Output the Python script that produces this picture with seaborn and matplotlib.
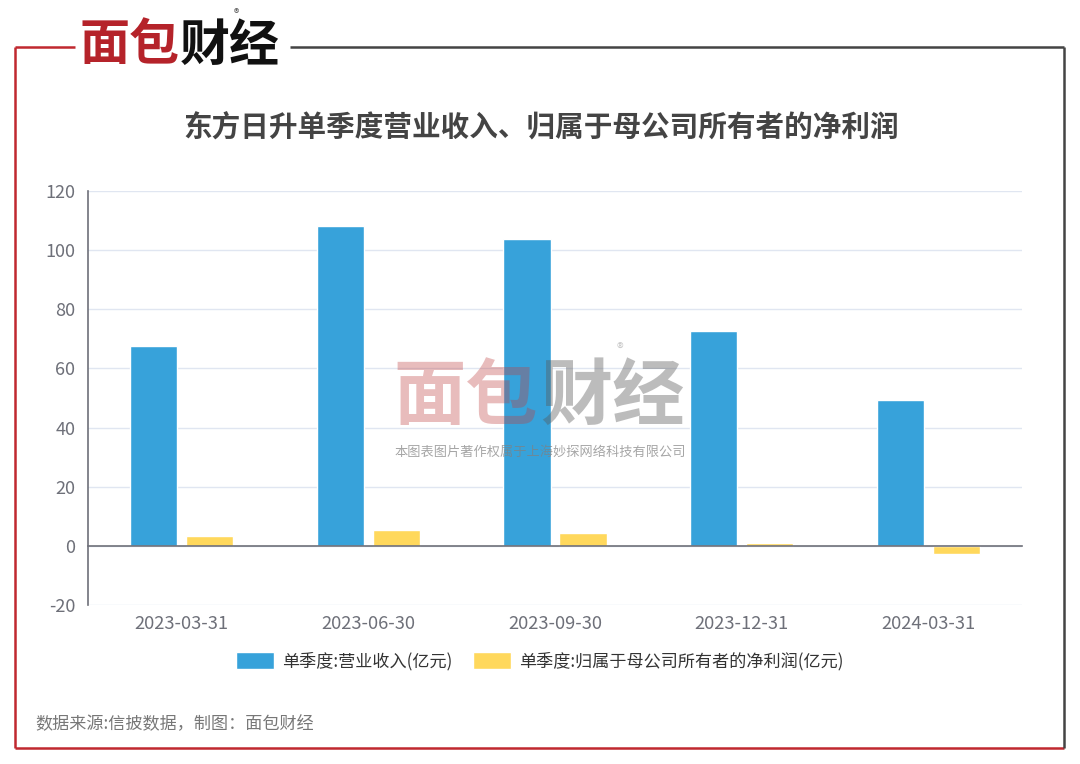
import numpy as np
import pandas as pd
import matplotlib
matplotlib.use("Agg")
import matplotlib.pyplot as plt
import seaborn as sns
from matplotlib.lines import Line2D
from matplotlib.ticker import FixedLocator

# ---- data ----
quarters = ["2023-03-31", "2023-06-30", "2023-09-30", "2023-12-31", "2024-03-31"]
revenue = [67.6, 108.2, 103.8, 72.8, 49.2]
net_profit = [3.2, 5.5, 4.3, 1.0, -2.6]
series_names = ["单季度:营业收入(亿元)", "单季度:归属于母公司所有者的净利润(亿元)"]
y_ticks = [-20, 0, 20, 40, 60, 80, 100, 120]
title = "东方日升单季度营业收入、归属于母公司所有者的净利润"
source = "数据来源:信披数据，制图：面包财经"
colors = ["#37A2DA", "#FFD85C"]

df = pd.DataFrame({
    "quarter": quarters * 2,
    "value": revenue + net_profit,
    "series": [series_names[0]] * len(quarters) + [series_names[1]] * len(quarters),
})

sns.set_theme(style="white")
plt.rcParams["font.family"] = ["Noto Sans CJK SC", "DejaVu Sans"]
plt.rcParams["axes.unicode_minus"] = False

W, H = 1080, 764
fig = plt.figure(figsize=(W / 100, H / 100), dpi=100)
ax = fig.add_axes([88 / W, (H - 605) / H, (1022 - 88) / W, (605 - 191) / H])

sns.barplot(data=df, x="quarter", y="value", hue="series", palette=colors,
            width=0.6, gap=0.16, saturation=1, ax=ax, legend=True)

ax.set_xlim(-0.5, len(quarters) - 0.5)
ax.set_ylim(y_ticks[0], y_ticks[-1])
ax.set_yticks(y_ticks)
ax.set_xlabel("")
ax.set_ylabel("")

ax.grid(axis="y", color="#e0e6f1", linewidth=1)
ax.set_axisbelow(True)
for s in ["top", "right"]:
    ax.spines[s].set_visible(False)
ax.spines["left"].set_color("#6e7079")
ax.spines["left"].set_linewidth(1.2)
ax.spines["bottom"].set_position(("data", 0))
ax.spines["bottom"].set_color("#6e7079")
ax.spines["bottom"].set_linewidth(1.2)

ax.xaxis.set_minor_locator(FixedLocator(np.arange(-0.5, len(quarters), 1.0)))
ax.tick_params(axis="x", which="minor", length=5, width=1, color="#6e7079", direction="out")
ax.tick_params(axis="x", which="major", length=0, pad=50, labelsize=13.2, labelcolor="#6e7079")
ax.tick_params(axis="y", length=0, pad=9, labelsize=13, labelcolor="#6e7079")

handles, labels = ax.get_legend_handles_labels()
ax.get_legend().remove()
fig.legend(handles, labels, loc="center", bbox_to_anchor=(540 / W, 1 - 661 / H), ncol=2,
           frameon=False, fontsize=12.3, handlelength=2.2, handleheight=1.1,
           columnspacing=1.2, handletextpad=0.5, labelcolor="#333333")

# title
fig.text(541 / W, 1 - 128 / H, title, ha="center", va="center", fontsize=20.6,
         fontweight="bold", color="#444444")

# source
fig.text(35 / W, 1 - 724 / H, source, ha="left", va="center", fontsize=12.3, color="#777777")

# frame
def fline(x0, y0, x1, y1, c, lw=1.8):
    fig.add_artist(Line2D([x0 / W, x1 / W], [1 - y0 / H, 1 - y1 / H], color=c, lw=lw,
                          transform=fig.transFigure, solid_capstyle="butt"))

fline(15, 47, 15, 748, "#c0282f")
fline(15, 748, 1064, 748, "#c0282f")
fline(15, 47, 75, 47, "#c0282f")
fline(290, 47, 1064, 47, "#444444")
fline(1064, 47, 1064, 748, "#444444")

# top logo
fig.text(80 / W, 1 - 46 / H, "面包", ha="left", va="center", fontsize=36,
         fontweight="bold", color="#b5232a")
fig.text(180 / W, 1 - 46 / H, "财经", ha="left", va="center", fontsize=36,
         fontweight="bold", color="#111111")
fig.text(236 / W, 1 - 14 / H, "®", ha="center", va="center", fontsize=8, color="#555555")

# watermark
fig.text(393 / W, 1 - 398 / H, "面包", ha="left", va="center", fontsize=52,
         fontweight="bold", color=(0.75, 0.25, 0.25, 0.35))
fig.text(540 / W, 1 - 398 / H, "财经", ha="left", va="center", fontsize=52,
         fontweight="bold", color=(0.35, 0.35, 0.35, 0.4))
fig.text(620 / W, 1 - 350 / H, "®", ha="center", va="center", fontsize=10,
         color=(0.6, 0.6, 0.6, 0.5))
fig.text(540 / W, 1 - 452 / H, "本图表图片著作权属于上海妙探网络科技有限公司", ha="center",
         va="center", fontsize=9.5, color=(0.5, 0.5, 0.5, 0.7))

fig.savefig("out.png", dpi=100)
